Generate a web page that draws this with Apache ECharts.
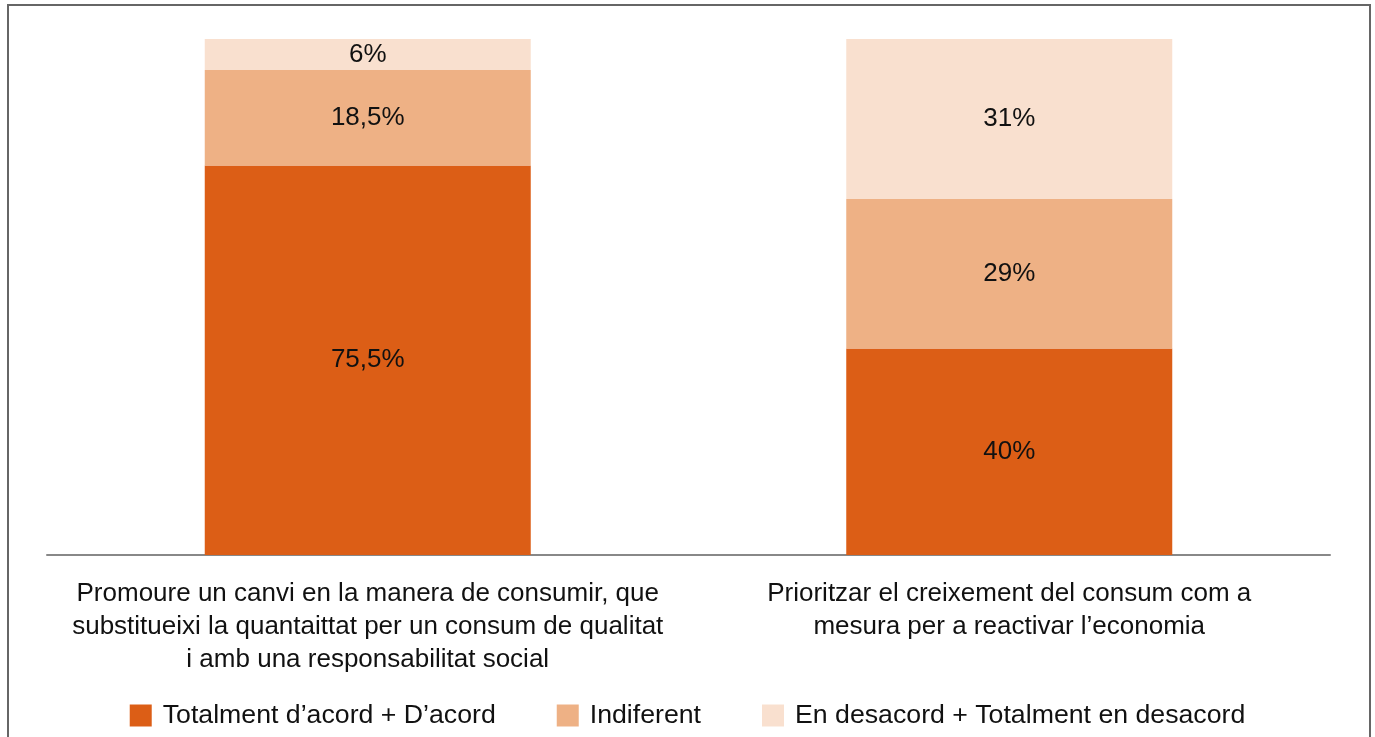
<!DOCTYPE html>
<html>
<head>
<meta charset="utf-8">
<title>Consum</title>
<script src="https://cdn.jsdelivr.net/npm/echarts@6/dist/echarts.min.js"></script>
<style>
	html, body { margin: 0; padding: 0; background: #fff; }
	#chart { width: 1375px; height: 737px; }
	#marc { position: absolute; left: 7px; top: 4px; width: 1360px; height: 740px; border: 2px solid #666; pointer-events: none; }
</style>
</head>
<body>
<div id="chart"></div>
<div id="marc"></div>
<script>
// categories (eix x)
var categories = [
	'Promoure un canvi en la manera de consumir, que\nsubstitueixi la quantaittat per un consum de qualitat\ni amb una responsabilitat social',
	'Prioritzar el creixement del consum com a\nmesura per a reactivar l\u2019economia'
];
var seriesNames = ['Totalment d\u2019acord + D\u2019acord', 'Indiferent', 'En desacord + Totalment en desacord'];
var acord = [75.5, 40];
var indiferent = [18.5, 29];
var desacord = [6, 31];
var colors = ['#dc5e16', '#eeb185', '#f9e0cf'];

var FONT = 'Liberation Sans';

window.onload = function() {
	viewChart();
};

/**
 * 75.5 -> "75,5%"
 */
function fmtPct(p) {
	return String(p.value).replace('.', ',') + '%';
}

function makeSerie(name, data, color) {
	return {
		name: name,
		type: 'bar',
		stack: 'total',
		data: data,
		barWidth: 326,
		itemStyle: { color: color },
		label: {
			show: true,
			position: 'inside',
			color: '#111',
			fontSize: 26,
			fontFamily: FONT,
			formatter: fmtPct
		}
	};
}

function viewChart() {
	var myChart = echarts.init(document.getElementById('chart'));
	var option = {
		animation: false,
		color: colors,
		textStyle: { fontFamily: FONT },
		grid: { left: 47, right: 45, top: 39, bottom: 182 },
		legend: {
			data: seriesNames,
			left: 'center',
			top: 697,
			icon: 'rect',
			itemWidth: 22,
			itemHeight: 22,
			itemGap: 61,
			textStyle: { fontSize: 26.7, color: '#111', fontFamily: FONT, padding: [0, 0, 0, 6] }
		},
		xAxis: {
			type: 'category',
			data: categories,
			axisLine: { lineStyle: { color: '#888', width: 2 } },
			axisTick: { show: false },
			axisLabel: {
				interval: 0,
				margin: 22,
				fontSize: 26,
				lineHeight: 33,
				color: '#111',
				fontFamily: FONT
			}
		},
		yAxis: {
			type: 'value',
			min: 0,
			max: 100,
			show: false,
			splitLine: { show: false }
		},
		series: [
			makeSerie(seriesNames[0], acord, colors[0]),
			makeSerie(seriesNames[1], indiferent, colors[1]),
			makeSerie(seriesNames[2], desacord, colors[2])
		]
	};
	myChart.setOption(option);
}
</script>
</body>
</html>
